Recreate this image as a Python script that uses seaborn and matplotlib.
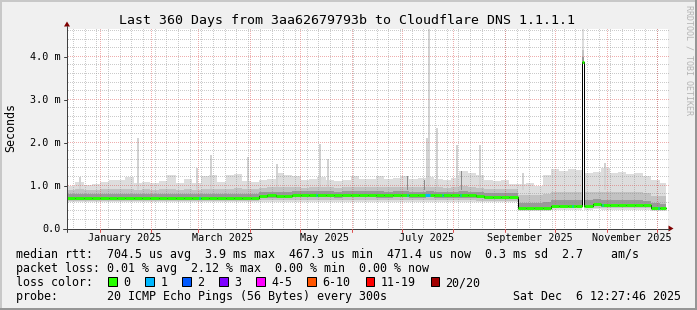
import numpy as np
import pandas as pd
import matplotlib
matplotlib.use("Agg")
import matplotlib.pyplot as plt
from matplotlib.patches import Rectangle, Polygon
import seaborn as sns

sns.set_theme(style="white")
plt.rcParams['font.family'] = ['DejaVu Sans Mono', 'DejaVu Sans']

# ---------------- data ----------------
title = "Last 360 Days from 3aa62679793b to Cloudflare DNS 1.1.1.1"
axis_start = pd.Timestamp("2024-12-12 12:00")
span_days = 360
bin_days = 5
data_end_day = 358.6

median_ms = [
    0.70, 0.70, 0.70, 0.70, 0.70, 0.70, 0.70, 0.71, 0.70, 0.70, 0.70, 0.70,
    0.70, 0.70, 0.70, 0.70, 0.70, 0.70, 0.70, 0.70, 0.70, 0.70, 0.70, 0.76,
    0.77, 0.75, 0.76, 0.78, 0.78, 0.78, 0.79, 0.79, 0.78, 0.79, 0.79, 0.79,
    0.79, 0.78, 0.78, 0.79, 0.79, 0.78, 0.78, 0.79, 0.78, 0.78, 0.78, 0.78,
    0.78, 0.75, 0.74, 0.74, 0.74, 0.74, 0.47, 0.47, 0.47, 0.47, 0.52, 0.52,
    0.52, 0.52, 0.53, 0.57, 0.55, 0.55, 0.55, 0.55, 0.55, 0.54, 0.48, 0.47,
]
smoke_max = [
    1.00, 1.08, 1.02, 1.04, 1.08, 1.12, 1.12, 1.20, 1.05, 1.08, 1.06, 1.10,
    1.25, 1.06, 1.15, 1.05, 1.22, 1.25, 1.08, 1.25, 1.28, 1.10, 1.08, 1.12,
    1.15, 1.30, 1.25, 1.22, 1.12, 1.15, 1.20, 1.12, 1.10, 1.12, 1.22, 1.15,
    1.15, 1.22, 1.15, 1.18, 1.22, 1.15, 1.18, 1.20, 1.15, 1.12, 1.18, 1.35,
    1.30, 1.25, 1.12, 1.10, 1.12, 1.04, 1.04, 1.06, 1.00, 1.25, 1.38, 1.35,
    1.38, 1.36, 1.30, 1.32, 1.40, 1.30, 1.32, 1.28, 1.30, 1.22, 1.12, 1.05,
]
smoke_p90 = [
    0.90, 0.91, 0.90, 0.90, 0.91, 0.92, 0.92, 0.93, 0.90, 0.91, 0.90, 0.91,
    0.93, 0.90, 0.92, 0.90, 0.92, 0.93, 0.91, 0.93, 0.94, 0.91, 0.91, 0.95,
    0.96, 0.97, 0.96, 0.96, 0.95, 0.96, 0.97, 0.96, 0.95, 0.96, 0.97, 0.96,
    0.96, 0.97, 0.96, 0.96, 0.97, 0.96, 0.96, 0.97, 0.96, 0.95, 0.96, 0.98,
    0.97, 0.95, 0.93, 0.93, 0.93, 0.92, 0.78, 0.78, 0.77, 0.80, 0.85, 0.85,
    0.86, 0.85, 0.84, 0.86, 0.86, 0.85, 0.85, 0.84, 0.85, 0.83, 0.76, 0.75,
]
smoke_p75 = [
    0.80, 0.80, 0.80, 0.80, 0.80, 0.81, 0.81, 0.81, 0.80, 0.80, 0.80, 0.80,
    0.81, 0.80, 0.80, 0.80, 0.81, 0.81, 0.80, 0.81, 0.81, 0.80, 0.80, 0.85,
    0.86, 0.85, 0.86, 0.87, 0.87, 0.87, 0.87, 0.87, 0.86, 0.87, 0.87, 0.87,
    0.87, 0.87, 0.86, 0.87, 0.87, 0.86, 0.86, 0.87, 0.86, 0.86, 0.86, 0.87,
    0.86, 0.84, 0.82, 0.82, 0.82, 0.82, 0.60, 0.60, 0.59, 0.61, 0.66, 0.66,
    0.66, 0.66, 0.66, 0.68, 0.67, 0.66, 0.66, 0.66, 0.66, 0.65, 0.59, 0.58,
]
smoke_p25 = [
    0.67, 0.67, 0.67, 0.67, 0.67, 0.67, 0.67, 0.68, 0.67, 0.67, 0.67, 0.67,
    0.67, 0.67, 0.67, 0.67, 0.67, 0.67, 0.67, 0.67, 0.67, 0.67, 0.67, 0.71,
    0.72, 0.71, 0.72, 0.73, 0.73, 0.73, 0.73, 0.73, 0.72, 0.73, 0.73, 0.73,
    0.73, 0.72, 0.72, 0.73, 0.73, 0.72, 0.72, 0.73, 0.72, 0.72, 0.72, 0.72,
    0.72, 0.70, 0.69, 0.69, 0.69, 0.69, 0.45, 0.45, 0.45, 0.45, 0.49, 0.49,
    0.49, 0.49, 0.50, 0.52, 0.51, 0.51, 0.51, 0.51, 0.51, 0.50, 0.45, 0.45,
]
smoke_p10 = [
    0.65, 0.65, 0.65, 0.65, 0.65, 0.65, 0.65, 0.65, 0.65, 0.65, 0.65, 0.65,
    0.65, 0.65, 0.65, 0.65, 0.65, 0.65, 0.65, 0.65, 0.65, 0.65, 0.65, 0.66,
    0.66, 0.66, 0.66, 0.66, 0.66, 0.66, 0.66, 0.66, 0.66, 0.66, 0.66, 0.66,
    0.66, 0.66, 0.66, 0.66, 0.66, 0.66, 0.66, 0.66, 0.66, 0.66, 0.66, 0.66,
    0.66, 0.65, 0.65, 0.65, 0.65, 0.65, 0.43, 0.43, 0.43, 0.43, 0.47, 0.47,
    0.47, 0.47, 0.47, 0.48, 0.47, 0.47, 0.47, 0.47, 0.47, 0.47, 0.43, 0.43,
]
smoke_min = [
    0.62, 0.62, 0.62, 0.62, 0.62, 0.62, 0.62, 0.62, 0.62, 0.62, 0.62, 0.62,
    0.62, 0.62, 0.62, 0.62, 0.62, 0.62, 0.62, 0.62, 0.62, 0.62, 0.62, 0.62,
    0.62, 0.62, 0.62, 0.62, 0.62, 0.62, 0.62, 0.62, 0.62, 0.62, 0.62, 0.62,
    0.62, 0.62, 0.62, 0.62, 0.62, 0.62, 0.62, 0.62, 0.62, 0.62, 0.62, 0.62,
    0.62, 0.62, 0.62, 0.62, 0.62, 0.62, 0.41, 0.41, 0.41, 0.41, 0.44, 0.44,
    0.44, 0.44, 0.44, 0.45, 0.44, 0.44, 0.44, 0.44, 0.44, 0.44, 0.41, 0.41,
]

# one-bin median outlier (start day, end day, median, min, p10, p25, p75, p90, max)
outlier = (308.7, 309.9, 3.88, 3.85, 3.86, 3.87, 4.00, 4.15, 4.70)

# narrow smoke spikes: day, top (ms)
light_spike_days = [7.2, 41.9, 77.3, 85.7, 107.8, 125.2, 151.0, 155.7, 215.0, 216.5, 221.3, 233.0, 246.8, 272.6, 321.7]
light_spike_tops = [1.19, 2.12, 1.41, 1.72, 1.66, 1.51, 1.98, 1.63, 2.12, 4.70, 2.35, 1.95, 1.95, 1.29, 1.52]
dark_spike_days = [203.7, 213.9, 236.0]
dark_spike_tops = [1.23, 1.13, 1.33]

# loss events (1/20 lost): start day, duration days
loss1_days = [79.0, 149.1, 203.5, 214.5, 224.5, 235.3, 302.3, 320.3, 354.0]
loss1_durs = [0.8, 0.8, 0.8, 3.0, 0.8, 0.8, 0.8, 0.8, 0.8]

loss_labels = ["0", "1", "2", "3", "4-5", "6-10", "11-19", "20/20"]
loss_colors = ["#26ff00", "#00b8ff", "#0059ff", "#7e00ff", "#ff00ff", "#ff5500", "#ff0000", "#a10000"]

ytick_vals = [0, 1, 2, 3, 4]
ytick_labels = ["0.0", "1.0 m", "2.0 m", "3.0 m", "4.0 m"]
xlabel_months = ["2025-01-01", "2025-03-01", "2025-05-01", "2025-07-01", "2025-09-01", "2025-11-01"]
xlabel_texts = ["January 2025", "March 2025", "May 2025", "July 2025", "September 2025", "November 2025"]

legend_lines = [
    "median rtt:  704.5 us avg  3.9 ms max  467.3 us min  471.4 us now  0.3 ms sd  2.7    am/s",
    "packet loss: 0.01 % avg  2.12 % max  0.00 % min  0.00 % now",
    "loss color:",
    "probe:       20 ICMP Echo Pings (56 Bytes) every 300s",
]
date_text = "Sat Dec  6 12:27:46 2025"
ylabel = "Seconds"
watermark = "RRDTOOL / TOBI OETIKER"

# ---------------- layout ----------------
W, H = 697, 310
PL, PR, PT, PB = 67, 668, 28.5, 228.5
ytop = (PB - PT) / 42.9
px_day = (PR - PL) / span_days
px_ms = (PB - PT) / ytop

fig = plt.figure(figsize=(W / 100, H / 100), dpi=100, facecolor="#F0F0F0")
ax = fig.add_axes([PL / W, 1 - PB / H, (PR - PL) / W, (PB - PT) / H])
ax.set_facecolor("white")
ax.set_xlim(0, span_days)
ax.set_ylim(0, ytop)
for s in ax.spines.values():
    s.set_visible(False)
ax.set_xticks([])
ax.set_yticks([])

# build segments
edges = [i * bin_days for i in range(len(median_ms) + 1)]
edges[-1] = data_end_day
segs = []
for i in range(len(median_ms)):
    a, b = edges[i], edges[i + 1]
    v = (median_ms[i], smoke_min[i], smoke_p10[i], smoke_p25[i], smoke_p75[i], smoke_p90[i], smoke_max[i])
    o0, o1 = outlier[0], outlier[1]
    if a < o0 < b:
        segs.append((a, o0, v))
        segs.append((o0, o1, outlier[2:]))
        segs.append((o1, b, v))
    else:
        segs.append((a, b, v))

X = []
cols = [[] for _ in range(7)]
for a, b, v in segs:
    X += [a, b]
    for k in range(7):
        cols[k] += [v[k], v[k]]
X = np.array(X)
med, mn, p10, p25, p75, p90, mx = [np.array(c) for c in cols]

ax.fill_between(X, mn, mx, color="#DDDDDD", lw=0, zorder=1)
ax.fill_between(X, p10, p90, color="#C2C2C2", lw=0, zorder=1.1)
ax.fill_between(X, p25, p75, color="#999999", lw=0, zorder=1.2)

sw = 1.0
for d, t in zip(light_spike_days, light_spike_tops):
    ax.fill_between([d, d + sw], [0.9, 0.9], [t, t], color="#D2D2D2", lw=0, zorder=1.05)
for d, t in zip(dark_spike_days, dark_spike_tops):
    ax.fill_between([d, d + 0.7], [0.9, 0.9], [t, t], color="#8A8A8A", lw=0, zorder=1.3)

# dotted grid (1 px on / 1 px off), drawn over the smoke like rrdtool
months = pd.date_range("2024-12-01", "2025-12-31", freq="MS")
month_days = [(m - axis_start) / pd.Timedelta(days=1) for m in months]
month_days = [d for d in month_days if 0 < d < span_days]
weeks = pd.date_range("2024-12-16", "2025-12-31", freq="7D")
week_days = [(w - axis_start) / pd.Timedelta(days=1) for w in weeks]
week_days = [d for d in week_days if 0 < d < span_days]

dot_x = np.arange(0.5, PR - PL, 2.0) / px_day
dot_y = np.arange(0.5, PB - PT, 2.0) / px_ms
grid_gray = (0x8F / 255, 0x8F / 255, 0x8F / 255, 0.46)
grid_red = (0xDE / 255, 0x50 / 255, 0x50 / 255, 0.46)

def hgrid(v, c, z):
    ax.plot(dot_x, np.full_like(dot_x, v), ls="none", marker=",", color=c, zorder=z)

def vgrid(d, c, z):
    ax.plot(np.full_like(dot_y, d), dot_y, ls="none", marker=",", color=c, zorder=z)

for v in np.arange(0.2, ytop, 0.2):
    if abs(v - round(v)) > 1e-6:
        hgrid(v, grid_gray, 2)
for d in week_days:
    vgrid(d, grid_gray, 2)
for v in ytick_vals[1:]:
    hgrid(v, grid_red, 2.1)
for d in month_days:
    vgrid(d, grid_red, 2.1)

# median line: black step, loss-coloured horizontal parts
ax.plot(X, med, color="black", lw=0.72, zorder=3)
ax.hlines([v[0] for a, b, v in segs], [a for a, b, v in segs], [b for a, b, v in segs],
          color=loss_colors[0], lw=2.1, zorder=3.1)
for d, w in zip(loss1_days, loss1_durs):
    idx = min(int(d // bin_days), len(median_ms) - 1)
    ax.hlines(median_ms[idx], d, d + w, color=loss_colors[1], lw=2.1, zorder=3.2)

# ---------------- overlay (pixel coordinates) ----------------
ov = fig.add_axes([0, 0, 1, 1], zorder=5)
ov.set_xlim(0, W)
ov.set_ylim(H, 0)
ov.axis("off")
ov.patch.set_alpha(0)

def dx(d):
    return PL + d * px_day

def vy(v):
    return PB - v * px_ms

# frame shading
ov.add_patch(Rectangle((0, 0), W, 2, color="#C8C8C8", lw=0))
ov.add_patch(Rectangle((0, 0), 2, H, color="#C8C8C8", lw=0))
ov.add_patch(Rectangle((0, H - 2), W, 2, color="#969696", lw=0))
ov.add_patch(Rectangle((W - 2, 0), 2, H, color="#969696", lw=0))

axis_col = "#404040"
ov.plot([63, 669], [PB, PB], color=axis_col, lw=0.72)
ov.plot([PL, PL], [PB + 3, 26], color=axis_col, lw=0.72)
ov.add_patch(Polygon([(668.5, PB - 3), (668.5, PB + 3), (673.5, PB)], closed=True, color="#7F0000", lw=0))
ov.add_patch(Polygon([(PL - 3, 26.5), (PL + 3, 26.5), (PL, 21.5)], closed=True, color="#7F0000", lw=0))

# y ticks / labels
for v, lab in zip(ytick_vals, ytick_labels):
    y = vy(v)
    ov.plot([PL - 3, PL], [y, y], color=axis_col, lw=0.72)
    ov.text(61, y + 3.4, lab, ha="right", va="baseline", fontsize=7.26, color="black")
# x ticks
for d in month_days:
    ov.plot([dx(d), dx(d)], [PB, PB + 3], color="#DE5050", lw=0.72)
for m, lab in zip(xlabel_months, xlabel_texts):
    d = (pd.Timestamp(m) - axis_start) / pd.Timedelta(days=1) + 15
    ov.text(dx(d), 241.3, lab, ha="center", va="baseline", fontsize=7.26, color="black")

# title, y label, watermark
ov.text(347.4, 24.2, title, ha="center", va="baseline", fontsize=9.57, color="black")
ov.text(11, 127, ylabel, ha="center", va="center", rotation=90, fontsize=8.4, color="black")
ov.text(688.5, 60, watermark, ha="center", va="center", rotation=270, fontsize=6.0, color="#B4B4B4")

# legend
base_y = [258.3, 272.3, 286.3, 300.3]
for s, y in zip(legend_lines, base_y):
    ov.text(16, y, s, ha="left", va="baseline", fontsize=8.4, color="black")
ov.text(681, base_y[3], date_text, ha="right", va="baseline", fontsize=8.4, color="black")

bx = 108.3
for lab, c in zip(loss_labels, loss_colors):
    ov.add_patch(Rectangle((bx, 277.3), 8.5, 8.5, facecolor=c, edgecolor="black", lw=0.72))
    ov.text(bx + 15, base_y[2], lab, ha="left", va="baseline", fontsize=8.4, color="black")
    bx += 30 + 7.02 * len(lab)

fig.savefig("out.png", dpi=100, facecolor=fig.get_facecolor())
